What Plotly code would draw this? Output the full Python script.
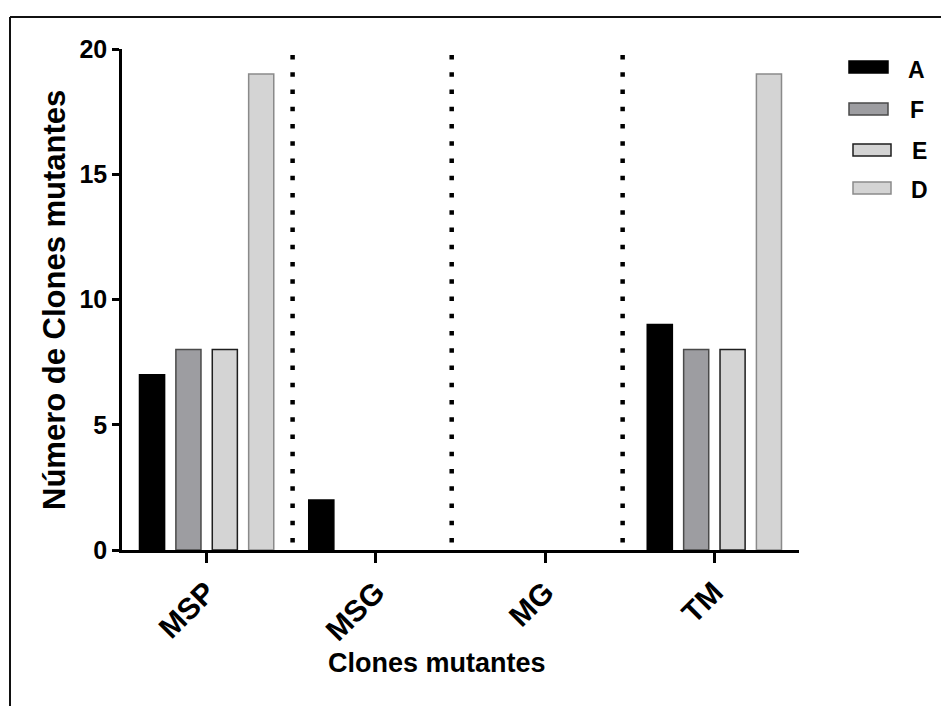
import plotly.graph_objects as go

# ---- data ----
categories = ["MSP", "MSG", "MG", "TM"]
series_names = ["A", "F", "E", "D"]
values_A = [7, 2, 0, 9]
values_F = [8, 0, 0, 8]
values_E = [8, 0, 0, 8]
values_D = [19, 0, 0, 19]
y_ticks = [0, 5, 10, 15, 20]
separator_x = [0.508, 1.448, 2.458]   # dotted separators (axis units)

series_values = [values_A, values_F, values_E, values_D]
fills = ["#000000", "#9d9da1", "#d4d4d4", "#d4d4d4"]
borders = ["#000000", "#4a4a4a", "#1e1e1e", "#8a8a8a"]

W, H = 941, 706
ML, MR, MT, MB = 122, 142, 49, 156
PW, PH = W - ML - MR, H - MT - MB

def px_x(p):
    return (p - ML) / PW

def px_y(p):
    return (H - MB - p) / PH

FONT = "Liberation Sans, Arial, Helvetica, sans-serif"
xpos = list(range(len(categories)))

fig = go.Figure()
for name, vals, fc, lc in zip(series_names, series_values, fills, borders):
    fig.add_trace(go.Bar(
        name=name, x=xpos, y=vals,
        marker=dict(color=fc, line=dict(color=lc, width=[1.5 if v else 0 for v in vals])),
        showlegend=False,
    ))

shapes = []
# dotted separators
for sx in separator_x:
    shapes.append(dict(type="line", xref="x", yref="y", x0=sx, x1=sx,
                       y0=0.3, y1=20.45,
                       line=dict(color="black", width=4.5, dash="4.5px,12.75px")))
# outer frame (top and left edges visible)
shapes.append(dict(type="line", xref="paper", yref="paper",
                   x0=px_x(10), x1=px_x(960), y0=px_y(17), y1=px_y(17),
                   line=dict(color="#111111", width=2)))
shapes.append(dict(type="line", xref="paper", yref="paper",
                   x0=px_x(10), x1=px_x(10), y0=px_y(17), y1=px_y(720),
                   line=dict(color="#111111", width=2)))

# custom legend
legend_boxes = [(849, 888, 61, 73), (849, 888, 103, 115),
                (853, 891, 144, 156), (853, 891, 182, 194)]
legend_text_pos = [(916, 70), (917, 110), (919, 151), (919, 190)]
annotations = []
for name, fc, lc, (x0, x1, y0, y1), (tx, ty) in zip(series_names, fills, borders,
                                                  legend_boxes, legend_text_pos):
    shapes.append(dict(type="rect", xref="paper", yref="paper",
                       x0=px_x(x0), x1=px_x(x1), y0=px_y(y0), y1=px_y(y1),
                       fillcolor=fc, line=dict(color=lc, width=1.5)))
    annotations.append(dict(xref="paper", yref="paper", x=px_x(tx), y=px_y(ty),
                            text=name, showarrow=False, xanchor="center", yanchor="middle",
                            font=dict(family=FONT, size=23, color="black", weight="bold")))

# axis titles
annotations.append(dict(xref="paper", yref="paper", x=px_x(437), y=px_y(663),
                        text="Clones mutantes", showarrow=False,
                        xanchor="center", yanchor="middle",
                        font=dict(family=FONT, size=27, color="black", weight="bold")))
annotations.append(dict(xref="paper", yref="paper", x=px_x(54), y=px_y(300),
                        text="Número de Clones mutantes", showarrow=False, textangle=-90,
                        xanchor="center", yanchor="middle",
                        font=dict(family=FONT, size=31, color="black", weight="bold")))

fig.update_layout(
    width=W, height=H,
    margin=dict(l=ML, r=MR, t=MT, b=MB, pad=0),
    paper_bgcolor="white", plot_bgcolor="white",
    barmode="group", bargap=0.14, bargroupgap=0.31,
    shapes=shapes, annotations=annotations,
    showlegend=False,
)
fig.update_xaxes(
    range=[-0.5, 3.5], tickvals=xpos, ticktext=categories, tickangle=-45,
    showline=True, linecolor="black", linewidth=2.5,
    ticks="outside", ticklen=10, tickwidth=2.5, tickcolor="black",
    showgrid=False, zeroline=False,
    tickfont=dict(family=FONT, size=30, color="black", weight="bold"),
)
fig.update_yaxes(
    range=[0, 20], tickvals=y_ticks,
    showline=True, linecolor="black", linewidth=2.5,
    ticks="outside", ticklen=7, tickwidth=2.5, tickcolor="black",
    showgrid=False, zeroline=False,
    tickfont=dict(family=FONT, size=25, color="black", weight="bold"),
)
fig.update_traces(cliponaxis=False)

fig.write_html("out.html")
